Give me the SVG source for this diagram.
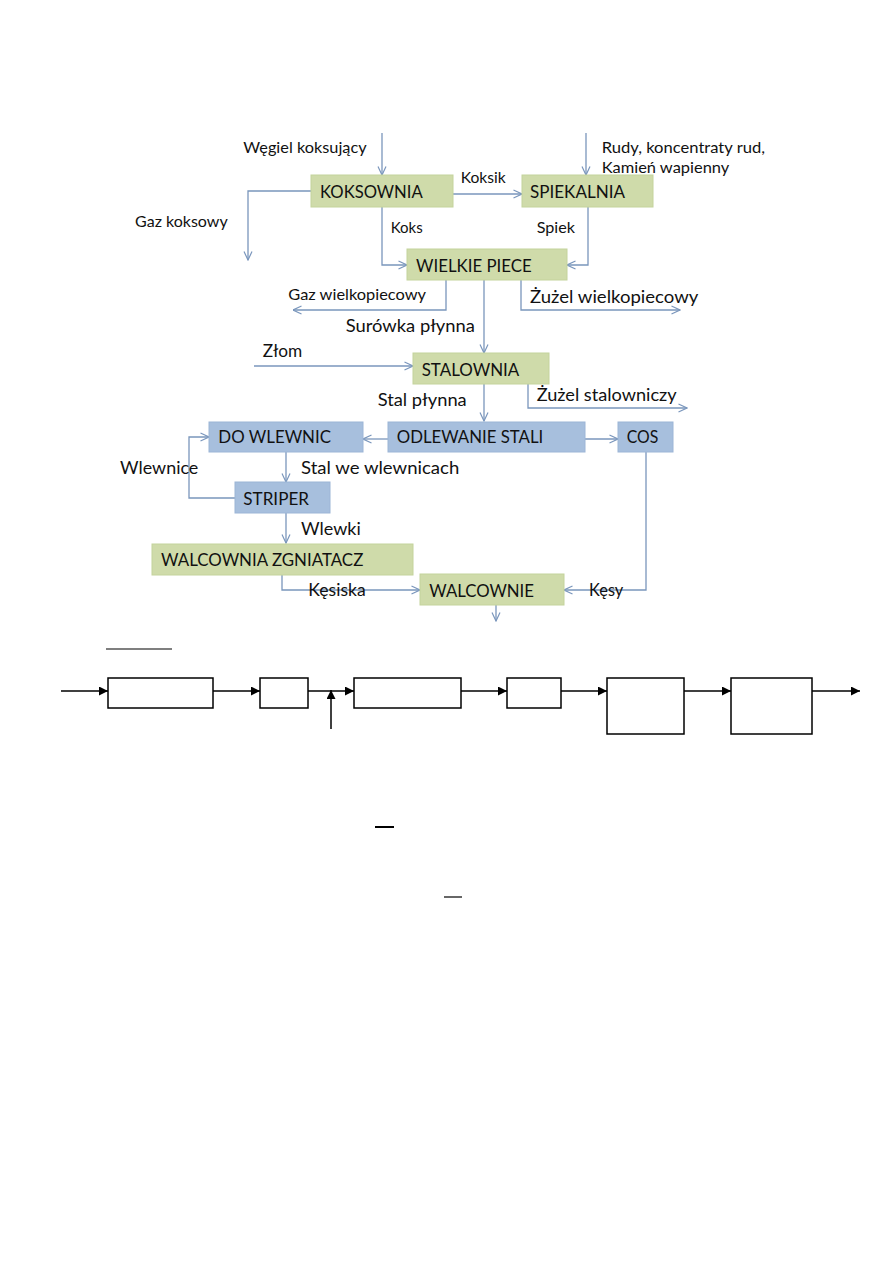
<svg xmlns="http://www.w3.org/2000/svg" width="893" height="1263" viewBox="0 0 893 1263">
<defs>
<style>
.g{fill:#CFDBAA;stroke:#C4D39C;stroke-width:1}
.b{fill:#A7BFDD;stroke:#9CB5D6;stroke-width:1}
.c{fill:none;stroke:#7A96BC;stroke-width:1.3}
.k{fill:none;stroke:#000;stroke-width:1.5}
.bx{fill:#fff;stroke:#000;stroke-width:1.5}
text{font-family:Lato,"Liberation Sans",sans-serif;fill:#111}
.s{font-size:16px}
.m{font-size:18px}
</style>
<marker id="oa" viewBox="0 0 10 10" refX="9.5" refY="5" markerWidth="10" markerHeight="10" markerUnits="userSpaceOnUse" orient="auto">
<polyline points="1,1 9.5,5 1,9" fill="none" stroke="#7A96BC" stroke-width="1.2"/>
</marker>
<marker id="fa" viewBox="0 0 10 10" refX="10" refY="5" markerWidth="10" markerHeight="9" markerUnits="userSpaceOnUse" orient="auto">
<path d="M0,0 L10,5 L0,10 Z" fill="#000"/>
</marker>
</defs>
<rect width="893" height="1263" fill="#fff"/>

<g id="connectors">
<path class="c" d="M382,133 V175" marker-end="url(#oa)"/>
<path class="c" d="M586,133 V175" marker-end="url(#oa)"/>
<path class="c" d="M311,191 H248 V260" marker-end="url(#oa)"/>
<path class="c" d="M453,194 H522" marker-end="url(#oa)"/>
<path class="c" d="M382,207 V265 H407" marker-end="url(#oa)"/>
<path class="c" d="M588,207 V265 H567" marker-end="url(#oa)"/>
<path class="c" d="M446,280 V310 H293" marker-end="url(#oa)"/>
<path class="c" d="M521,280 V310 H680" marker-end="url(#oa)"/>
<path class="c" d="M484,280 V353" marker-end="url(#oa)"/>
<path class="c" d="M254,366 H413" marker-end="url(#oa)"/>
<path class="c" d="M528,384 V408 H687" marker-end="url(#oa)"/>
<path class="c" d="M484,384 V421" marker-end="url(#oa)"/>
<path class="c" d="M388,439 H363" marker-end="url(#oa)"/>
<path class="c" d="M585,439 H618" marker-end="url(#oa)"/>
<path class="c" d="M235,498 H189 V437 H209" marker-end="url(#oa)"/>
<path class="c" d="M286,452 V482" marker-end="url(#oa)"/>
<path class="c" d="M286,513 V543" marker-end="url(#oa)"/>
<path class="c" d="M282,575 V590 H420" marker-end="url(#oa)"/>
<path class="c" d="M646,452 V590 H564" marker-end="url(#oa)"/>
<path class="c" d="M496,605 V621" marker-end="url(#oa)"/>

<path class="k" d="M61,691 H108" marker-end="url(#fa)"/>
<path class="k" d="M213,691 H260" marker-end="url(#fa)"/>
<path class="k" d="M308,691 H354" marker-end="url(#fa)"/>
<path class="k" d="M331,729 V690" marker-end="url(#fa)"/>
<path class="k" d="M461,691 H507" marker-end="url(#fa)"/>
<path class="k" d="M561,691 H607" marker-end="url(#fa)"/>
<path class="k" d="M684,691 H731" marker-end="url(#fa)"/>
<path class="k" d="M812,691 H860" marker-end="url(#fa)"/>
</g>

<g id="koksownia"><rect class="g" x="311" y="175" width="142" height="32"/><text class="m" x="320" y="198.3" textLength="102.7" lengthAdjust="spacingAndGlyphs">KOKSOWNIA</text></g>
<g id="spiekalnia"><rect class="g" x="522" y="175" width="131" height="32"/><text class="m" x="530" y="198.3" textLength="95" lengthAdjust="spacingAndGlyphs">SPIEKALNIA</text></g>
<g id="wielkie-piece"><rect class="g" x="407" y="249" width="160" height="31"/><text class="m" x="416" y="271.7" textLength="115.7" lengthAdjust="spacingAndGlyphs">WIELKIE PIECE</text></g>
<g id="stalownia"><rect class="g" x="413" y="353" width="136" height="31"/><text class="m" x="421.7" y="375.7" textLength="97.6" lengthAdjust="spacingAndGlyphs">STALOWNIA</text></g>
<g id="do-wlewnic"><rect class="b" x="209" y="422" width="154" height="30"/><text class="m" x="218.3" y="443.3" textLength="112.7" lengthAdjust="spacingAndGlyphs">DO WLEWNIC</text></g>
<g id="odlewanie-stali"><rect class="b" x="388" y="422" width="197" height="30"/><text class="m" x="396.7" y="443.3" textLength="146.6" lengthAdjust="spacingAndGlyphs">ODLEWANIE STALI</text></g>
<g id="cos"><rect class="b" x="618" y="422" width="55" height="30"/><text class="m" x="626.7" y="443.3" textLength="31.6" lengthAdjust="spacingAndGlyphs">COS</text></g>
<g id="striper"><rect class="b" x="235" y="482" width="95" height="31"/><text class="m" x="243.3" y="505" textLength="65.7" lengthAdjust="spacingAndGlyphs">STRIPER</text></g>
<g id="walcownia-zgniatacz"><rect class="g" x="152" y="544" width="261" height="31"/><text class="m" x="161" y="566" textLength="202.3" lengthAdjust="spacingAndGlyphs">WALCOWNIA ZGNIATACZ</text></g>
<g id="walcownie"><rect class="g" x="420" y="574" width="144" height="31"/><text class="m" x="429.3" y="596.7" textLength="104.7" lengthAdjust="spacingAndGlyphs">WALCOWNIE</text></g>

<g id="labels">
<text class="s" x="243.3" y="153.3" textLength="123.4" lengthAdjust="spacingAndGlyphs">Węgiel koksujący</text>
<text class="s" x="601.7" y="153.3" textLength="163.3" lengthAdjust="spacingAndGlyphs">Rudy, koncentraty rud,</text>
<text class="s" x="601.7" y="173.3" textLength="127.6" lengthAdjust="spacingAndGlyphs">Kamień wapienny</text>
<text class="s" x="460.7" y="183.3" textLength="45" lengthAdjust="spacingAndGlyphs">Koksik</text>
<text class="s" x="135" y="226.7" textLength="92.7" lengthAdjust="spacingAndGlyphs">Gaz koksowy</text>
<text class="s" x="390.7" y="232.7" textLength="32" lengthAdjust="spacingAndGlyphs">Koks</text>
<text class="s" x="536.7" y="232.7" textLength="38.3" lengthAdjust="spacingAndGlyphs">Spiek</text>
<text class="s" x="288.3" y="300" textLength="137.7" lengthAdjust="spacingAndGlyphs">Gaz wielkopiecowy</text>
<text class="m" x="530" y="302.7" textLength="168.3" lengthAdjust="spacingAndGlyphs">Żużel wielkopiecowy</text>
<text class="m" x="345.7" y="332.3" textLength="129.3" lengthAdjust="spacingAndGlyphs">Surówka płynna</text>
<text class="m" x="262.7" y="357.3" textLength="39.6" lengthAdjust="spacingAndGlyphs">Złom</text>
<text class="m" x="536.7" y="400.7" textLength="140" lengthAdjust="spacingAndGlyphs">Żużel stalowniczy</text>
<text class="m" x="377.7" y="406" textLength="89" lengthAdjust="spacingAndGlyphs">Stal płynna</text>
<text class="m" x="120" y="474" textLength="78.3" lengthAdjust="spacingAndGlyphs">Wlewnice</text>
<text class="m" x="301" y="474" textLength="158.3" lengthAdjust="spacingAndGlyphs">Stal we wlewnicach</text>
<text class="m" x="301" y="535" textLength="59.7" lengthAdjust="spacingAndGlyphs">Wlewki</text>
<text class="m" x="308.3" y="596" textLength="57.4" lengthAdjust="spacingAndGlyphs">Kęsiska</text>
<text class="m" x="589" y="596" textLength="34.3" lengthAdjust="spacingAndGlyphs">Kęsy</text>
</g>

<g id="block-1"><rect class="bx" x="108" y="678" width="105" height="30"/></g>
<g id="block-2"><rect class="bx" x="260" y="678" width="48" height="30"/></g>
<g id="block-3"><rect class="bx" x="354" y="678" width="107" height="30"/></g>
<g id="block-4"><rect class="bx" x="507" y="678" width="54" height="30"/></g>
<g id="block-5"><rect class="bx" x="607" y="678" width="77" height="56"/></g>
<g id="block-6"><rect class="bx" x="731" y="678" width="81" height="56"/></g>

<g id="rules">
<line x1="106" y1="649" x2="172" y2="649" stroke="#000" stroke-width="1.2"/>
<line x1="375" y1="827" x2="394" y2="827" stroke="#000" stroke-width="2"/>
<line x1="444" y1="897" x2="462" y2="897" stroke="#000" stroke-width="1.2"/>
</g>
</svg>
